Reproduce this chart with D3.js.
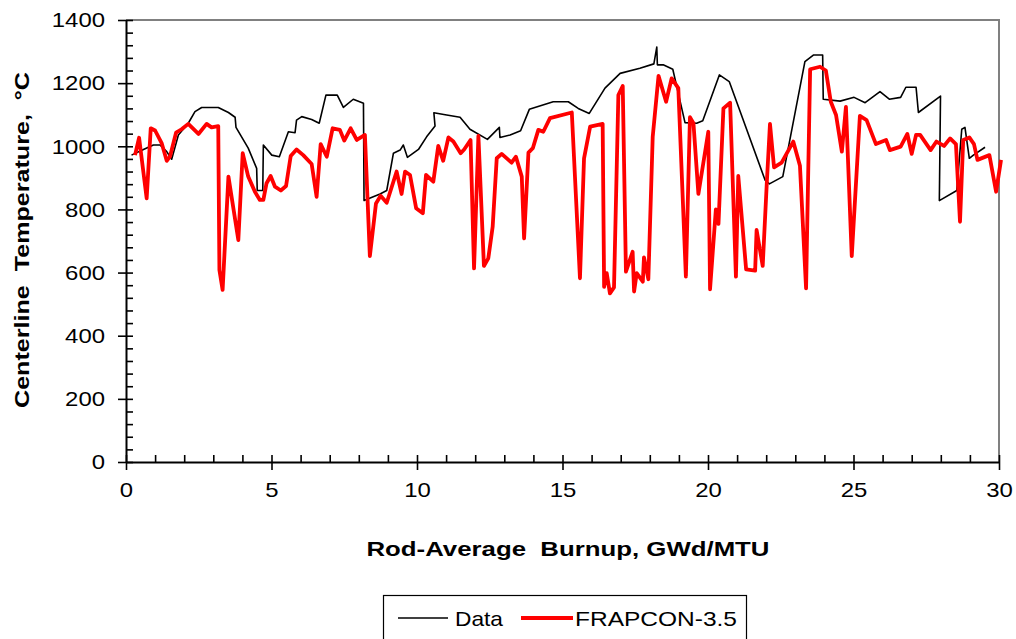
<!DOCTYPE html>
<html><head><meta charset="utf-8">
<script src="https://cdn.jsdelivr.net/npm/d3@7"></script>
<style>body{margin:0;background:#fff}svg{font-family:"Liberation Sans",Arial,sans-serif}</style>
</head><body><svg id="c" width="1016" height="639"></svg>
<script>
const xTicks=[0,5,10,15,20,25,30];
const yTicks=[0,200,400,600,800,1000,1200,1400];
const dataX=[0.19,0.60,0.94,1.17,1.40,1.57,1.80,2.14,2.37,2.60,3.17,3.52,3.75,3.78,4.20,4.49,4.51,4.70,4.72,5.01,5.27,5.58,5.81,5.86,6.04,6.38,6.64,6.87,7.26,7.47,7.81,8.16,8.18,8.73,8.96,9.19,9.42,9.53,9.67,10.05,10.33,10.62,10.58,11.02,11.48,11.82,12.42,12.83,12.85,13.20,13.56,13.86,14.68,15.20,15.54,15.92,16.46,16.98,17.66,18.14,18.24,18.26,18.46,18.79,19.21,19.61,19.82,20.39,20.73,21.96,22.11,22.57,23.33,23.62,23.94,23.96,24.54,25.02,25.40,25.91,26.23,26.62,26.80,27.15,27.23,27.99,27.95,28.55,28.72,28.83,28.98,29.12,29.52];
const dataY=[972,990,1004,1004,983,959,1036,1073,1110,1123,1123,1107,1092,1060,994,930,860,860,1004,972,967,1046,1043,1083,1094,1085,1073,1162,1162,1123,1149,1136,828,849,860,978,988,1004,965,990,1030,1064,1106,1099,1092,1054,1022,1060,1028,1036,1049,1117,1141,1141,1120,1104,1184,1231,1247,1261,1314,1258,1258,1244,1075,1073,1081,1226,1205,893,881,904,1268,1289,1289,1149,1143,1155,1138,1173,1149,1155,1187,1187,1107,1159,828,860,1054,1060,962,972,997];
const frapX=[0.31,0.45,0.71,0.85,1.00,1.23,1.40,1.51,1.72,1.91,2.14,2.49,2.77,2.94,3.17,3.21,3.32,3.52,3.86,4.01,4.20,4.43,4.60,4.72,4.83,4.97,5.12,5.32,5.50,5.66,5.86,6.09,6.38,6.55,6.69,6.90,7.10,7.35,7.50,7.72,7.93,8.21,8.38,8.59,8.75,8.96,9.30,9.47,9.59,9.76,9.97,10.20,10.31,10.56,10.73,10.90,11.08,11.25,11.50,11.62,11.84,11.96,12.11,12.30,12.45,12.60,12.74,12.91,13.25,13.40,13.60,13.68,13.83,13.98,14.17,14.34,14.57,15.32,15.60,15.74,15.95,16.38,16.43,16.52,16.63,16.77,16.92,17.07,17.18,17.41,17.46,17.55,17.76,17.80,17.95,18.10,18.30,18.56,18.75,18.98,19.24,19.38,19.50,19.67,20.01,20.07,20.27,20.36,20.53,20.76,20.96,21.04,21.31,21.62,21.67,21.88,22.02,22.13,22.27,22.53,22.93,23.16,23.37,23.51,23.85,24.05,24.22,24.40,24.60,24.74,24.94,25.22,25.45,25.77,26.12,26.25,26.62,26.85,27.00,27.15,27.29,27.65,27.85,28.11,28.32,28.52,28.66,28.77,28.98,29.14,29.26,29.67,29.90,30.07];
const frapY=[972,1027,835,1057,1050,1009,954,967,1043,1054,1071,1039,1071,1060,1064,608,545,904,703,978,904,856,830,830,883,906,872,860,874,969,990,972,944,840,1007,967,1057,1052,1018,1057,1020,1036,652,819,843,821,920,849,920,909,804,788,909,888,1001,954,1028,1015,978,990,1020,613,1033,621,645,745,962,976,948,967,904,708,980,994,1052,1046,1089,1107,582,962,1062,1071,555,598,534,553,1162,1191,603,666,540,598,571,648,579,1030,1223,1141,1215,1184,587,1092,1073,849,1046,547,800,754,1120,1138,587,906,610,606,735,621,883,1071,933,948,1015,938,550,1244,1252,1240,1141,1099,983,1125,652,1096,1083,1007,1020,988,999,1039,976,1036,1036,988,1015,1001,1025,1007,761,1020,1028,1007,957,972,856,957];
const seriesNames=["Data","FRAPCON-3.5"];

const svg=d3.select("#c");
const L=126,R=999,T=20,B=462;
const x=d3.scaleLinear().domain([0,30]).range([L,R]);
const y=d3.scaleLinear().domain([0,1400]).range([B,T]);

svg.append("path").attr("d",`M${L},${T}H${R}V${B}`).attr("fill","none").attr("stroke","#808080").attr("stroke-width",2);

const gMinX=svg.append("g").attr("transform",`translate(0,${B})`)
 .call(d3.axisBottom(x).tickValues(d3.range(0,31,1)).tickSize(-7).tickFormat(""));
gMinX.select(".domain").remove();
const gMinY=svg.append("g").attr("transform",`translate(${L},0)`)
 .call(d3.axisLeft(y).tickValues(d3.range(0,1401,40)).tickSize(-7).tickFormat(""));
gMinY.select(".domain").remove();

const gx=svg.append("g").attr("transform",`translate(0,${B})`)
 .call(d3.axisBottom(x).tickValues(xTicks).tickSize(8).tickPadding(11).tickSizeOuter(0).tickFormat(d3.format("d")));
const gy=svg.append("g").attr("transform",`translate(${L},0)`)
 .call(d3.axisLeft(y).tickValues(yTicks).tickSize(8).tickPadding(13).tickSizeOuter(0).tickFormat(d3.format("d")));
[gx,gy,gMinX,gMinY].forEach(g=>{g.selectAll("line").attr("stroke","#000").attr("stroke-width",1.6);
 g.selectAll("text").attr("font-size",21).attr("fill","#000").attr("font-family","Liberation Sans, Arial, sans-serif")
  .attr("textLength",function(){return this.textContent.length*13.3;}).attr("lengthAdjust","spacingAndGlyphs");
 g.select(".domain").attr("stroke","#000").attr("stroke-width",2);});
gx.selectAll("text").attr("dy","0.75em");

const line=d3.line().x(d=>x(d[0])).y(d=>y(d[1]));
svg.append("path").datum(dataX.map((v,i)=>[v,dataY[i]])).attr("d",line)
 .attr("fill","none").attr("stroke","#000").attr("stroke-width",1.6).attr("stroke-linejoin","round");
svg.append("path").datum(frapX.map((v,i)=>[v,frapY[i]])).attr("d",line)
 .attr("fill","none").attr("stroke","#ff0000").attr("stroke-width",3.8).attr("stroke-linejoin","round");

svg.append("text").attr("x",568).attr("y",556).attr("text-anchor","middle")
 .attr("font-size",21).attr("font-weight","bold").style("white-space","pre")
 .attr("textLength",403).attr("lengthAdjust","spacingAndGlyphs").text("Rod-Average  Burnup, GWd/MTU");
svg.append("text").attr("transform","translate(29,240) rotate(-90)").attr("text-anchor","middle")
 .attr("font-size",21).attr("font-weight","bold").style("white-space","pre")
 .attr("textLength",336).attr("lengthAdjust","spacingAndGlyphs").text("Centerline  Temperature,  °C");

const lg=svg.append("g");
lg.append("rect").attr("x",383.5).attr("y",595.5).attr("width",363).attr("height",60).attr("fill","#fff").attr("stroke","#000").attr("stroke-width",1.2);
lg.append("line").attr("x1",398).attr("x2",448).attr("y1",618).attr("y2",618).attr("stroke","#000").attr("stroke-width",1.6);
lg.append("text").attr("x",455).attr("y",626).attr("font-size",21).attr("textLength",48).attr("lengthAdjust","spacingAndGlyphs").text(seriesNames[0]);
lg.append("line").attr("x1",521).attr("x2",573).attr("y1",618).attr("y2",618).attr("stroke","#ff0000").attr("stroke-width",3.8);
lg.append("text").attr("x",575).attr("y",626).attr("font-size",21).attr("textLength",162).attr("lengthAdjust","spacingAndGlyphs").text(seriesNames[1]);
</script></body></html>
